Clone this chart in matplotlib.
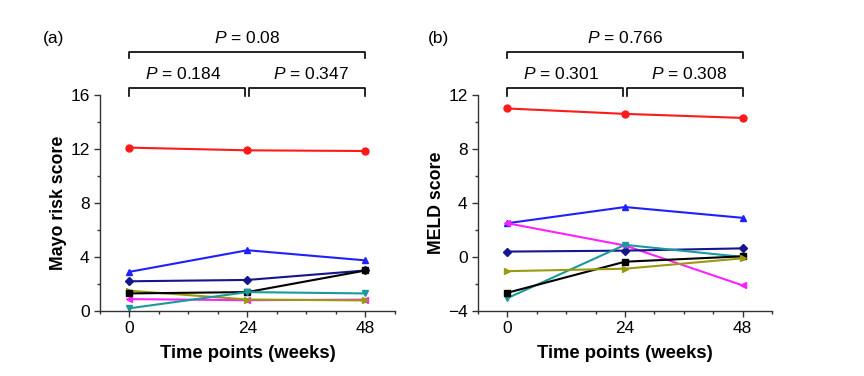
import numpy as np
import matplotlib
matplotlib.use("Agg")
from matplotlib import pyplot as plt
from matplotlib.ticker import MultipleLocator
import matplotlib.transforms as mtransforms

plt.rcParams['font.family'] = ['Liberation Sans', 'DejaVu Sans']

# Time points (weeks)
weeks = [0, 24, 48]

# Panel (a): Mayo risk score per patient
mayo_red = [12.1, 11.9, 11.85]
mayo_blue = [2.9, 4.5, 3.75]
mayo_navy = [2.2, 2.3, 3.0]
mayo_black = [1.3, 1.4, 3.0]
mayo_olive = [1.5, 0.85, 0.78]
mayo_magenta = [0.88, 0.8, 0.84]
mayo_teal = [0.2, 1.4, 1.3]

# Panel (b): MELD score per patient
meld_red = [11.0, 10.6, 10.3]
meld_blue = [2.5, 3.7, 2.9]
meld_magenta = [2.5, 0.85, -2.1]
meld_navy = [0.4, 0.47, 0.64]
meld_teal = [-3.05, 0.9, 0.0]
meld_black = [-2.65, -0.35, 0.05]
meld_olive = [-1.05, -0.87, -0.1]

# P values for brackets: (overall, 0-24, 24-48)
p_mayo = ["0.08", "0.184", "0.347"]
p_meld = ["0.766", "0.301", "0.308"]

styles = {
    'red': ('#ff1a1a', 'o', 5),
    'blue': ('#2020ff', '^', 5),
    'navy': ('#15158f', 'D', 4.5),
    'black': ('#000000', 's', 4.5),
    'olive': ('#9a9a10', '>', 5),
    'magenta': ('#ff20ff', '<', 5),
    'teal': ('#1a9a9a', 'v', 5),
}

mayo = {'red': mayo_red, 'blue': mayo_blue, 'navy': mayo_navy, 'magenta': mayo_magenta,
        'olive': mayo_olive, 'black': mayo_black, 'teal': mayo_teal}
meld = {'red': meld_red, 'blue': meld_blue, 'magenta': meld_magenta, 'navy': meld_navy,
        'teal': meld_teal, 'black': meld_black, 'olive': meld_olive}


def draw_bracket(ax, x0, x1, y, drop):
    trans = mtransforms.blended_transform_factory(ax.transData, ax.transAxes)
    ax.plot([x0, x0, x1, x1], [y - drop, y, y, y - drop], color='black', lw=1.2,
            transform=trans, clip_on=False)


def panel(ax, data, ylim, ylabel, pvals, tag, tag_x):
    for name, vals in data.items():
        c, m, ms = styles[name]
        ax.plot(weeks, vals, color=c, marker=m, markersize=ms, lw=1.5, clip_on=False)
    ax.set_xlim(-6, 54)
    ax.set_ylim(*ylim)
    ax.set_xticks(weeks)
    ax.xaxis.set_minor_locator(MultipleLocator(6))
    ax.set_yticks(np.arange(ylim[0], ylim[1] + 1, 4))
    ax.yaxis.set_minor_locator(MultipleLocator(2))
    for s in ['top', 'right']:
        ax.spines[s].set_visible(False)
    for s in ['left', 'bottom']:
        ax.spines[s].set_linewidth(1.0)
        ax.spines[s].set_color('#333333')
    ax.tick_params(which='major', direction='out', length=4, width=1, labelsize=12.5, color='#333333')
    ax.tick_params(which='minor', direction='out', length=2.5, width=1, color='#333333')
    ax.set_xlabel('Time points (weeks)', fontsize=13.3, fontweight='bold', labelpad=6)
    ax.set_ylabel(ylabel, fontsize=12.8, fontweight='bold', labelpad=2)

    trans = mtransforms.blended_transform_factory(ax.transData, ax.transAxes)
    draw_bracket(ax, 0, 48, 1.199, 0.028)
    draw_bracket(ax, 0, 23.6, 1.032, 0.037)
    draw_bracket(ax, 24.4, 48, 1.032, 0.037)
    ax.text(24, 1.262, r'$P$ = ' + pvals[0], transform=trans, ha='center', va='center', fontsize=12.5)
    ax.text(11, 1.095, r'$P$ = ' + pvals[1], transform=trans, ha='center', va='center', fontsize=12.5)
    ax.text(37, 1.095, r'$P$ = ' + pvals[2], transform=trans, ha='center', va='center', fontsize=12.5)
    ax.text(tag_x, 1.262, tag, transform=ax.transAxes, ha='left', va='center', fontsize=12.5)


plt.rcParams['mathtext.fontset'] = 'custom'
plt.rcParams['mathtext.it'] = 'Liberation Sans:italic'
plt.rcParams['mathtext.rm'] = 'Liberation Sans'

fig = plt.figure(figsize=(8.64, 3.76), dpi=100)
ax1 = fig.add_axes([0.1157, 0.1729, 0.3414, 0.5745])
ax2 = fig.add_axes([0.5532, 0.1729, 0.3403, 0.5745])

panel(ax1, mayo, (0, 16), 'Mayo risk score', p_mayo, '(a)', -0.193)
panel(ax2, meld, (-4, 12), 'MELD score', p_meld, '(b)', -0.17)

fig.savefig('out.png', dpi=100)
